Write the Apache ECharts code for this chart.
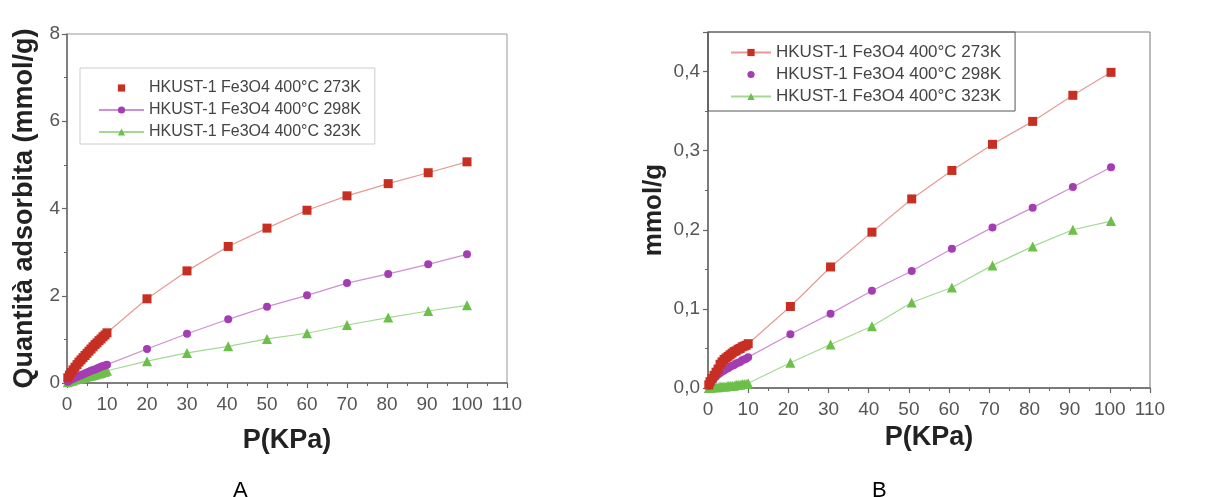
<!DOCTYPE html>
<html>
<head>
<meta charset="utf-8">
<script src="https://cdn.jsdelivr.net/npm/echarts@6/dist/echarts.min.js"></script>
<style>
html,body{margin:0;padding:0;background:#fff;}
#chart{width:1209px;height:497px;}
</style>
</head>
<body>
<div id="chart"></div>
<script>
// ---------- DATA ----------
const seriesNames = ['HKUST-1 Fe3O4 400°C 273K', 'HKUST-1 Fe3O4 400°C 298K', 'HKUST-1 Fe3O4 400°C 323K'];
const xTicks = [0, 10, 20, 30, 40, 50, 60, 70, 80, 90, 100, 110];

// Chart A
const aLowP = [0.2, 0.6, 1, 1.5, 2, 2.5, 3, 3.5, 4, 4.5, 5, 5.5, 6, 6.5, 7, 7.5, 8, 8.5, 9, 9.5, 10];
const aHighP = [20, 30, 40.3, 50, 60, 70, 80.3, 90.3, 100];
const a273Low = [0.12, 0.18, 0.24, 0.30, 0.36, 0.42, 0.48, 0.53, 0.58, 0.63, 0.68, 0.73, 0.78, 0.83, 0.88, 0.92, 0.97, 1.01, 1.06, 1.10, 1.15];
const a273High = [1.93, 2.57, 3.13, 3.55, 3.96, 4.29, 4.57, 4.82, 5.07];
const a298Low = [0.03, 0.06, 0.08, 0.10, 0.12, 0.14, 0.16, 0.18, 0.20, 0.22, 0.24, 0.26, 0.28, 0.30, 0.31, 0.33, 0.35, 0.37, 0.39, 0.40, 0.42];
const a298High = [0.78, 1.13, 1.46, 1.75, 2.01, 2.29, 2.50, 2.72, 2.95];
const a323Low = [0.02, 0.04, 0.05, 0.06, 0.08, 0.09, 0.10, 0.11, 0.12, 0.13, 0.15, 0.16, 0.17, 0.18, 0.19, 0.21, 0.22, 0.23, 0.25, 0.26, 0.28];
const a323High = [0.50, 0.69, 0.84, 1.01, 1.14, 1.33, 1.50, 1.65, 1.78];

// Chart B
const bLowP = [0.2, 0.5, 1, 1.5, 2, 2.5, 3, 3.5, 4, 4.5, 5, 5.5, 6, 6.5, 7, 7.5, 8, 8.5, 9, 9.5, 10];
const bHighP = [20.5, 30.5, 40.8, 50.7, 60.7, 70.8, 80.8, 90.8, 100.3];
const b273Low = [0.004, 0.008, 0.012, 0.016, 0.020, 0.024, 0.030, 0.033, 0.036, 0.038, 0.040, 0.042, 0.044, 0.046, 0.047, 0.049, 0.050, 0.052, 0.053, 0.054, 0.056];
const b273High = [0.103, 0.153, 0.197, 0.239, 0.275, 0.308, 0.337, 0.370, 0.399];
const b298Low = [0.003, 0.006, 0.009, 0.012, 0.015, 0.017, 0.019, 0.021, 0.022, 0.024, 0.025, 0.027, 0.028, 0.029, 0.031, 0.032, 0.033, 0.035, 0.036, 0.037, 0.039];
const b298High = [0.068, 0.094, 0.123, 0.148, 0.176, 0.203, 0.228, 0.254, 0.279];
const b323Low = [0.000, 0.000, 0.001, 0.001, 0.001, 0.001, 0.002, 0.002, 0.002, 0.002, 0.003, 0.003, 0.003, 0.003, 0.004, 0.004, 0.004, 0.005, 0.005, 0.005, 0.006];
const b323High = [0.032, 0.055, 0.078, 0.108, 0.127, 0.155, 0.179, 0.200, 0.211];

// ---------- BUILD ----------
function pairs(xs, ys) { return xs.map((x, i) => [x, ys[i]]); }
function join(xl, yl, xh, yh) { return pairs(xl, yl).concat(pairs(xh, yh)); }

const markerColors = ['#c62f22', '#a43cb3', '#6cbf48'];
const lineColors = ['#e59a96', '#cf8fd3', '#a5d894'];
const symbols = ['rect', 'circle', 'triangle'];
const symbolSizes = [9, 8, 10];

const FONT = 'Liberation Sans, Arial, sans-serif';

function mkSeries(name, idx, data, axisIdx) {
  return {
    name: name, type: 'line', xAxisIndex: axisIdx, yAxisIndex: axisIdx,
    data: data, symbol: symbols[idx], symbolSize: symbolSizes[idx],
    showSymbol: true, animation: false,
    itemStyle: { color: markerColors[idx] },
    lineStyle: { color: lineColors[idx], width: 1.2 },
    z: 3 - idx
  };
}

const dataA = [join(aLowP, a273Low, aHighP, a273High), join(aLowP, a298Low, aHighP, a298High), join(aLowP, a323Low, aHighP, a323High)];
const dataB = [join(bLowP, b273Low, bHighP, b273High), join(bLowP, b298Low, bHighP, b298High), join(bLowP, b323Low, bHighP, b323High)];

const series = [];
seriesNames.forEach((n, i) => series.push(mkSeries(n, i, dataA[i], 0)));
seriesNames.forEach((n, i) => series.push(mkSeries(n, i, dataB[i], 1)));

const axisLine = { show: true, lineStyle: { color: '#666', width: 1.5 } };
const axisTick = { show: true, inside: false, length: 5, lineStyle: { color: '#666', width: 1.2 } };
const minorTick = { show: true, splitNumber: 2, length: 3, lineStyle: { color: '#666', width: 1 } };
const tickLabel = { color: '#555', fontSize: 19, fontFamily: FONT };

function xAx(gi, gap, margin) {
  return {
    gridIndex: gi, type: 'value', min: 0, max: xTicks[xTicks.length - 1], interval: xTicks[1] - xTicks[0],
    name: 'P(KPa)', nameLocation: 'middle', nameGap: gap,
    nameTextStyle: { color: '#222', fontSize: 27, fontWeight: 'bold', fontFamily: FONT },
    axisLine: axisLine, axisTick: axisTick, minorTick: minorTick,
    axisLabel: Object.assign({ margin: margin }, tickLabel),
    splitLine: { show: false }
  };
}

const option = {
  backgroundColor: '#fff',
  animation: false,
  grid: [
    { left: 67, top: 34, width: 440, height: 349, show: true, borderColor: '#999', borderWidth: 1 },
    { left: 708, top: 32, width: 442, height: 356, show: true, borderColor: '#777', borderWidth: 1 }
  ],
  xAxis: [xAx(0, 44, 12), xAx(1, 35, 12)],
  yAxis: [
    {
      gridIndex: 0, type: 'value', min: 0, max: 8, interval: 2,
      name: 'Quantità adsorbita (mmol/g)', nameLocation: 'middle', nameGap: 29,
      nameTextStyle: { color: '#222', fontSize: 27, fontWeight: 'bold', fontFamily: FONT },
      axisLine: axisLine, axisTick: axisTick, minorTick: minorTick,
      axisLabel: Object.assign({ margin: 7 }, tickLabel),
      splitLine: { show: false }
    },
    {
      gridIndex: 1, type: 'value', min: 0, max: 0.45, interval: 0.1,
      name: 'mmol/g', nameLocation: 'middle', nameGap: 41,
      nameTextStyle: { color: '#222', fontSize: 26, fontWeight: 'bold', fontFamily: FONT },
      axisLine: axisLine, axisTick: axisTick, minorTick: minorTick,
      axisLabel: Object.assign({ margin: 8, showMaxLabel: false,
        formatter: v => (v > 0.42 ? '' : v.toFixed(1).replace('.', ',')) }, tickLabel),
      splitLine: { show: false }
    }
  ],
  legend: [
    {
      left: 80, top: 68, orient: 'vertical', itemGap: 6, itemWidth: 45, itemHeight: 9,
      padding: [12, 14, 4, 18], borderColor: '#ccc', borderWidth: 1, selectedMode: false,
      textStyle: { color: '#444', fontSize: 16, fontFamily: FONT },
      data: [
        { name: seriesNames[0], lineStyle: { opacity: 0 } },
        { name: seriesNames[1] },
        { name: seriesNames[2] }
      ]
    },
    {
      left: 708, top: 32, orient: 'vertical', itemGap: 5, itemWidth: 40, itemHeight: 9,
      padding: [12, 14, 6, 22], borderColor: '#555', borderWidth: 1, selectedMode: false,
      textStyle: { color: '#444', fontSize: 17, fontFamily: FONT },
      data: [
        { name: seriesNames[0] },
        { name: seriesNames[1], lineStyle: { opacity: 0 } },
        { name: seriesNames[2] }
      ]
    }
  ],
  title: [
    { text: 'A', left: 228, top: 475, textStyle: { fontSize: 22, fontWeight: 'normal', color: '#000', fontFamily: FONT } },
    { text: 'B', left: 867, top: 475, textStyle: { fontSize: 22, fontWeight: 'normal', color: '#000', fontFamily: FONT } }
  ],
  series: series
};

const chart = echarts.init(document.getElementById('chart'), null, { renderer: 'canvas' });
chart.setOption(option);
</script>
</body>
</html>
